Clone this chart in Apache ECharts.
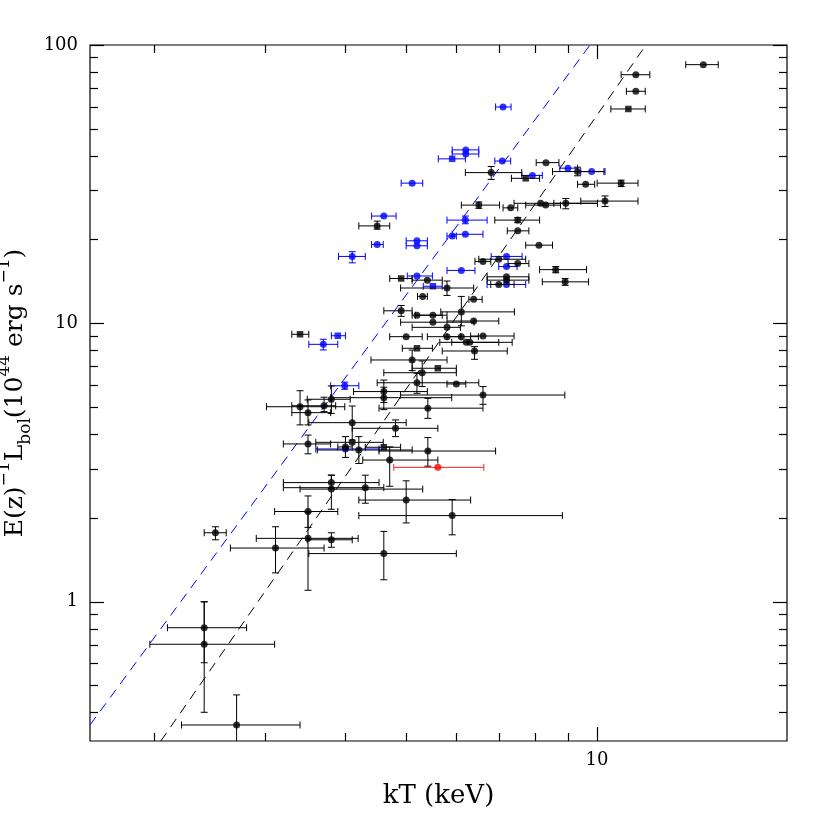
<!DOCTYPE html>
<html><head><meta charset="utf-8">
<script src="https://cdn.jsdelivr.net/npm/echarts@6/dist/echarts.min.js"></script>
<style>html,body{margin:0;padding:0;background:#fff}#c{width:830px;height:830px}</style>
</head><body><div id="c"></div>
<script>
// ---------------- data (kT in keV, L in 1e44 erg/s) ----------------
const xRange = [Math.pow(10, 0.2), Math.pow(10, 1.3)];
const yRange = [Math.pow(10, -0.5), 100];

const xMinorTicks = [2, 3, 4, 5, 6, 7, 8, 9];
const xMajorTicks = [10];
const xTickLabels = ['10'];
const yMinorTicks = [0.4, 0.5, 0.6, 0.7, 0.8, 0.9, 2, 3, 4, 5, 6, 7, 8, 9, 20, 30, 40, 50, 60, 70, 80, 90];
const yMajorTicks = [1, 10, 100];
const yTickLabels = ['1', '10', '100'];

// black sample
const blackKT   = [14.72,11.52,11.52,11.21,8.31,6.81,7.72,9.32,9.60,10.92,6.51,7.31,8.15,8.30,8.93,10.30,7.50,7.50,8.10,7.00,6.61,7.50,8.61,8.91,7.20,7.20,7.00,6.39,6.11,6.39,5.80,4.50,4.91,5.40,5.31,4.91,5.20,5.51,5.51,5.80,5.00,3.40,5.20,5.80,6.11,6.61,6.22,6.30,6.41,5.11,5.61,5.30,6.00,5.20,6.61,5.41,4.61,4.61,3.81,3.71,3.40,3.50,4.11,4.81,3.50,4.11,4.01,4.21,4.61,5.41,4.71,3.81,3.81,4.31,5.00,5.91,3.50,3.50,3.81,3.11,4.61,2.50,2.40,2.40,2.70];
const blackKTlo = [13.81,10.92,11.13,10.52,8.02,6.20,7.33,8.51,9.32,10.01,6.11,7.11,7.40,7.72,8.55,9.43,6.90,7.22,7.72,6.51,6.42,7.24,8.12,8.20,6.71,6.71,6.80,6.28,5.67,5.80,4.90,4.21,4.71,5.11,5.21,4.61,5.11,5.17,4.90,5.11,4.71,3.30,4.93,5.40,5.80,6.32,5.65,5.90,5.70,4.40,5.11,4.61,5.80,4.50,4.90,4.53,4.13,3.80,3.49,3.30,3.01,3.30,3.51,4.11,3.20,3.60,3.90,3.62,4.31,4.53,4.27,3.20,3.40,3.20,4.21,4.21,3.10,2.90,3.49,2.64,3.51,2.40,2.10,1.97,2.21];
const blackKThi = [15.54,12.12,11.92,11.92,8.71,7.61,8.12,10.26,9.92,11.61,7.02,7.50,10.02,8.76,10.02,11.61,8.12,7.81,8.51,7.72,6.80,7.81,9.63,9.70,7.81,7.81,7.40,6.59,7.41,7.00,6.39,4.71,5.11,5.70,5.40,5.11,5.70,5.80,6.40,6.09,5.30,3.51,5.50,6.10,6.50,7.40,7.35,7.00,7.22,5.80,6.00,6.00,6.21,6.51,8.90,6.61,5.40,5.90,4.08,3.87,4.00,3.80,5.00,5.61,3.80,4.60,4.11,5.11,4.90,6.92,5.61,4.53,5.31,4.61,6.32,8.82,3.90,4.20,4.11,3.71,6.00,2.60,2.80,3.10,3.40];
const blackL    = [85.0,78.2,68.2,58.9,37.8,34.8,33.2,35.1,31.6,31.9,26.6,26.0,27.0,26.6,27.0,27.5,23.5,21.5,19.1,17.0,16.7,16.4,15.6,14.1,14.7,14.3,13.8,12.2,11.0,10.2,13.4,22.4,14.5,14.3,12.5,11.1,10.7,10.7,10.1,9.68,8.96,9.14,8.14,8.96,8.96,9.01,8.55,8.55,7.96,7.39,6.90,6.65,6.06,6.12,5.53,4.96,5.69,5.41,5.34,5.06,5.02,4.78,4.40,4.20,3.69,3.74,3.60,3.51,3.59,3.48,3.23,2.68,2.54,2.57,2.32,2.04,2.11,1.69,1.67,1.56,1.49,1.77,0.807,0.704,0.361];
const blackLlo  = [85.0,78.2,68.2,58.9,37.8,32.9,33.2,33.9,31.6,31.0,25.9,26.0,27.0,26.6,25.8,26.3,23.0,21.5,19.1,17.0,16.7,16.4,15.2,13.7,14.7,14.3,13.8,12.2,9.8,10.2,12.6,21.8,14.5,14.3,12.5,10.6,10.7,10.7,10.1,9.68,8.96,9.14,8.14,8.96,8.96,9.01,8.55,8.55,7.43,6.77,6.90,5.93,6.06,5.61,5.12,4.56,5.20,4.90,4.75,4.82,4.32,4.32,3.81,3.92,3.40,3.74,3.30,3.14,3.59,3.07,2.60,2.55,2.15,2.26,1.92,1.74,1.85,1.10,1.57,1.27,1.20,1.67,0.604,0.401,0.30];
const blackLhi  = [85.0,78.2,68.2,58.9,37.8,36.6,33.2,36.4,31.6,32.7,27.3,26.0,27.0,26.6,28.1,28.7,24.0,21.5,19.1,17.0,16.7,16.4,16.0,14.5,14.7,14.3,13.8,12.2,12.5,10.2,14.2,23.3,14.5,14.3,12.5,11.6,10.7,10.7,10.1,9.68,8.96,9.14,8.14,8.96,8.96,9.01,8.55,8.55,8.25,8.02,6.90,7.33,6.06,6.62,5.93,5.38,6.26,5.90,5.96,5.43,5.73,5.31,5.05,4.50,3.97,3.74,3.92,3.92,3.59,3.89,3.60,2.85,2.85,2.85,2.72,2.33,2.40,2.10,1.77,1.86,1.79,1.86,1.00,1.00,0.463];
const blackSquares = [3, 6, 32, 41, 42, 50, 68];

// blue sample
const blueKT   = [7.11,6.21,6.21,5.91,7.09,7.91,9.00,9.81,5.11,4.61,6.20,4.50,5.20,5.20,6.20,5.91,4.11,7.20,7.20,6.11,5.20,5.51,7.20,3.90,3.70,4.00,4.01];
const blueKTlo = [6.92,5.91,5.91,5.62,6.90,7.61,8.74,9.43,4.91,4.41,5.80,4.41,5.00,5.00,5.91,5.80,3.91,6.81,7.00,5.80,5.02,5.32,6.71,3.81,3.51,3.80,3.60];
const blueKThi = [7.32,6.51,6.51,6.20,7.31,8.20,9.32,10.30,5.31,4.82,6.71,4.60,5.40,5.40,6.61,6.00,4.31,7.62,7.48,6.42,5.50,5.70,7.72,4.01,3.90,4.21,4.53];
const blueL    = [59.9,42.0,40.6,39.0,38.3,34.0,36.1,35.1,31.9,24.3,23.5,19.2,19.8,19.0,20.9,20.6,17.4,17.4,16.0,15.5,14.8,13.6,13.8,9.03,8.41,5.97,3.54];
const blueLlo  = [59.9,42.0,40.6,39.0,38.3,34.0,36.1,35.1,31.9,24.3,22.8,19.2,19.8,19.0,20.9,20.6,16.5,17.4,16.0,15.5,14.8,13.6,13.8,9.03,8.03,5.80,3.54];
const blueLhi  = [59.9,42.0,40.6,39.0,38.3,34.0,36.1,35.1,31.9,24.3,24.3,19.2,19.8,19.0,20.9,20.6,18.1,17.4,16.0,15.5,14.8,13.6,13.8,9.03,8.77,6.15,3.54];
const blueSquares = [3, 21, 23];

// red point
const redKT = [5.61], redKTlo = [4.78], redKThi = [6.63];
const redL = [3.04], redLlo = [3.04], redLhi = [3.04];

// fitted relations (end points)
const blueFit  = [[1.585, 0.361], [9.75, 100]];
const blackFit = [[2.05, 0.3162], [11.95, 100]];

// ---------------- chart ----------------
const FONT = 'DejaVu Serif';
function rows(kt, lo, hi, L, Llo, Lhi) {
  return kt.map((v, i) => [v, L[i], lo[i], hi[i], Llo[i], Lhi[i]]);
}
function marks(kt, L, squares) {
  return kt.map((v, i) => squares.indexOf(i) >= 0
    ? { value: [v, L[i]], symbol: 'rect', symbolSize: 6.5 }
    : { value: [v, L[i]] });
}
function errRender(color) {
  return function (params, api) {
    const x = api.value(0), y = api.value(1);
    const xl = api.value(2), xh = api.value(3), yl = api.value(4), yh = api.value(5);
    const cap = 3.5;
    const st = { stroke: color, lineWidth: 1 };
    const a = api.coord([xl, y]), b = api.coord([xh, y]);
    const ch = [
      { type: 'line', shape: { x1: a[0], y1: a[1], x2: b[0], y2: b[1] }, style: st },
      { type: 'line', shape: { x1: a[0], y1: a[1] - cap, x2: a[0], y2: a[1] + cap }, style: st },
      { type: 'line', shape: { x1: b[0], y1: b[1] - cap, x2: b[0], y2: b[1] + cap }, style: st }
    ];
    if (yl !== yh) {
      const p = api.coord([x, yl]), q = api.coord([x, yh]);
      ch.push({ type: 'line', shape: { x1: p[0], y1: p[1], x2: q[0], y2: q[1] }, style: st });
      if (yl >= yRange[0]) ch.push({ type: 'line', shape: { x1: p[0] - cap, y1: p[1], x2: p[0] + cap, y2: p[1] }, style: st });
      ch.push({ type: 'line', shape: { x1: q[0] - cap, y1: q[1], x2: q[0] + cap, y2: q[1] }, style: st });
    }
    return { type: 'group', children: ch };
  };
}
const L10 = Math.log10;
// tick-only axes (in log10 space) — one axis per side per grid
function tickAxis(grid, range, pos, ticks, len, labels, margin, extra) {
  const tv = ticks.map(L10);
  return Object.assign({
    gridIndex: grid, type: 'value', position: pos, min: L10(range[0]), max: L10(range[1]),
    axisLine: { show: false, onZero: false }, splitLine: { show: false },
    axisTick: { show: true, inside: true, length: len, customValues: tv, lineStyle: { color: '#000', width: 1.2 } },
    axisLabel: labels ? { show: true, customValues: tv, margin: margin,
      formatter: v => labels[tv.findIndex(t => Math.abs(t - v) < 1e-6)],
      fontFamily: FONT, fontSize: 18, color: '#000' } : { show: false }
  }, extra || {});
}
const box = { left: 90, top: 45, right: 43, bottom: 89, containLabel: false, outerBoundsMode: 'none' };

const chart = echarts.init(document.getElementById('c'), null, { renderer: 'canvas' });
const dash = [10, 7];
chart.setOption({
  animation: false,
  backgroundColor: '#fff',
  grid: [
    Object.assign({ show: true, borderColor: '#000', borderWidth: 1.2, backgroundColor: 'transparent' }, box), // data grid
    Object.assign({}, box), // minor ticks
    Object.assign({}, box)  // major ticks + labels
  ],
  xAxis: [
    { gridIndex: 0, type: 'log', logBase: 10, min: xRange[0], max: xRange[1], position: 'bottom',
      axisLine: { show: false, onZero: false }, axisTick: { show: false }, axisLabel: { show: false }, splitLine: { show: false },
      name: 'kT (keV)', nameLocation: 'middle', nameGap: 42,
      nameTextStyle: { fontFamily: FONT, fontSize: 26, color: '#000' } },
    tickAxis(1, xRange, 'bottom', xMinorTicks, 8, null, 0),
    tickAxis(1, xRange, 'top', xMinorTicks, 8, null, 0),
    tickAxis(2, xRange, 'bottom', xMajorTicks, 14, xTickLabels, 10),
    tickAxis(2, xRange, 'top', xMajorTicks, 14, null, 0)
  ],
  yAxis: [
    { gridIndex: 0, type: 'log', logBase: 10, min: yRange[0], max: yRange[1], position: 'left',
      axisLine: { show: false, onZero: false }, axisTick: { show: false }, axisLabel: { show: false }, splitLine: { show: false },
      name: '{m|E(z)}{sup|\u22121}{m|L}{sub|bol}{m|(10}{sup|44}{m| erg s}{sup|\u22121}{m|)}',
      nameLocation: 'middle', nameGap: 56, nameRotate: 90,
      nameTextStyle: { fontFamily: FONT, fontSize: 25, color: '#000',
        rich: {
          m: { fontFamily: FONT, fontSize: 25, color: '#000', lineHeight: 38, verticalAlign: 'middle' },
          sup: { fontFamily: FONT, fontSize: 17, color: '#000', lineHeight: 38, verticalAlign: 'top' },
          sub: { fontFamily: FONT, fontSize: 17, color: '#000', lineHeight: 38, verticalAlign: 'bottom' }
        } } },
    tickAxis(1, yRange, 'left', yMinorTicks, 8, null, 0),
    tickAxis(1, yRange, 'right', yMinorTicks, 8, null, 0),
    tickAxis(2, yRange, 'left', yMajorTicks, 14, yTickLabels, 12),
    tickAxis(2, yRange, 'right', yMajorTicks, 14, null, 0)
  ],
  series: [
    { type: 'line', data: blueFit, symbol: 'none', clip: true, lineStyle: { color: '#0000ff', width: 1, type: dash }, z: 1 },
    { type: 'line', data: blackFit, symbol: 'none', clip: true, lineStyle: { color: '#000', width: 1, type: dash }, z: 1 },
    { type: 'custom', data: rows(blueKT, blueKTlo, blueKThi, blueL, blueLlo, blueLhi), renderItem: errRender('#0000ff'), clip: true, z: 2 },
    { type: 'scatter', data: marks(blueKT, blueL, blueSquares), symbol: 'circle', symbolSize: 7, itemStyle: { color: '#0000ff' }, z: 3 },
    { type: 'custom', data: rows(blackKT, blackKTlo, blackKThi, blackL, blackLlo, blackLhi), renderItem: errRender('#000'), clip: true, z: 4 },
    { type: 'scatter', data: marks(blackKT, blackL, blackSquares), symbol: 'circle', symbolSize: 7, itemStyle: { color: '#000' }, z: 5 },
    { type: 'custom', data: rows(redKT, redKTlo, redKThi, redL, redLlo, redLhi), renderItem: errRender('#ff2020'), clip: true, z: 6 },
    { type: 'scatter', data: marks(redKT, redL, []), symbol: 'circle', symbolSize: 7, itemStyle: { color: '#ff0000' }, z: 7 }
  ].map(s => Object.assign({ xAxisIndex: 0, yAxisIndex: 0 }, s))
});
</script></body></html>
